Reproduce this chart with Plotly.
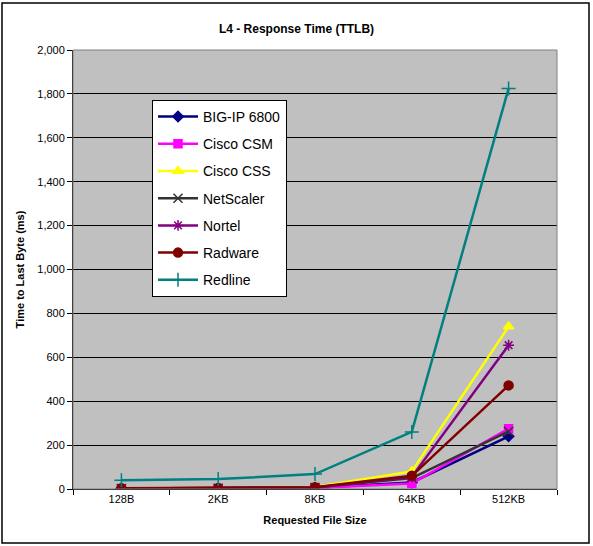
import plotly.graph_objects as go

categories = ["128B", "2KB", "8KB", "64KB", "512KB"]
big_ip = [2, 3, 6, 30, 240]
cisco_csm = [1, 2, 5, 25, 275]
cisco_css = [3, 4, 9, 80, 740]
netscaler = [2, 3, 7, 50, 262]
nortel = [2, 3, 7, 55, 655]
radware = [3, 4, 8, 60, 472]
redline = [40, 45, 68, 260, 1825]

series = [
    ("BIG-IP 6800", big_ip, "#000080", "diamond", 8),
    ("Cisco CSM", cisco_csm, "#FF00FF", "square", 8),
    ("Cisco CSS", cisco_css, "#FFFF00", "triangle-up", 9),
    ("NetScaler", netscaler, "#333333", "x-thin-open", 9),
    ("Nortel", nortel, "#800080", "asterisk-open", 9),
    ("Radware", radware, "#800000", "circle", 9),
    ("Redline", redline, "#008080", "cross-thin-open", 10),
]

fig = go.Figure()
for i, (name, vals, color, sym, size) in enumerate(series):
    fig.add_trace(go.Scatter(
        x=categories, y=vals, name=name, mode="lines+markers",
        legendgroup=f"g{i}",
        line=dict(color=color, width=2.5),
        marker=dict(symbol=sym, size=size, color=color,
                    line=dict(color=color, width=1.5)),
    ))

L, R, T, B = 73, 36, 50, 57
W, H = 593, 546
pw, ph = W - L - R, H - T - B

fig.update_layout(
    width=W, height=H,
    margin=dict(l=L, r=R, t=T, b=B),
    paper_bgcolor="white",
    plot_bgcolor="#C0C0C0",
    font=dict(family="Liberation Sans, Arial, sans-serif", size=11, color="black"),
    title=dict(text="<b>L4 - Response Time (TTLB)</b>", x=0.5, xanchor="center",
               y=1 - 29 / H, yanchor="middle", font=dict(size=12)),
    showlegend=True,
    legend=dict(x=(152 - L) / pw, y=(489 - 100) / ph, xanchor="left", yanchor="top",
                bgcolor="white", bordercolor="black", borderwidth=1,
                font=dict(size=14), itemwidth=40, tracegroupgap=6,
                traceorder="grouped"),
    xaxis=dict(
        type="category", showgrid=False, showline=True, linecolor="black",
        ticks="outside", ticklen=5, tickcolor="black", tickson="boundaries",
        mirror=False,
        title=dict(text="<b>Requested File Size</b>", font=dict(size=11), standoff=12),
        range=[-0.5, 4.5],
    ),
    yaxis=dict(
        range=[0, 2000], dtick=200, tickformat=",d", showgrid=True,
        gridcolor="black", gridwidth=1, showline=True, linecolor="black",
        ticks="outside", ticklen=5, tickcolor="black", zeroline=False,
        title=dict(text="<b>Time to Last Byte (ms)</b>", font=dict(size=11), standoff=10),
    ),
    shapes=[
        dict(type="rect", xref="paper", yref="paper", x0=0, x1=1, y0=0, y1=1,
             line=dict(color="#808080", width=1), fillcolor="rgba(0,0,0,0)", layer="above"),
        dict(type="rect", xref="paper", yref="paper",
             x0=(2 - L) / pw, x1=(589 - L) / pw,
             y0=(489 - 543) / ph, y1=(489 - 3) / ph,
             line=dict(color="black", width=1.5), fillcolor="rgba(0,0,0,0)"),
    ],
)

fig.write_html("out.html")
